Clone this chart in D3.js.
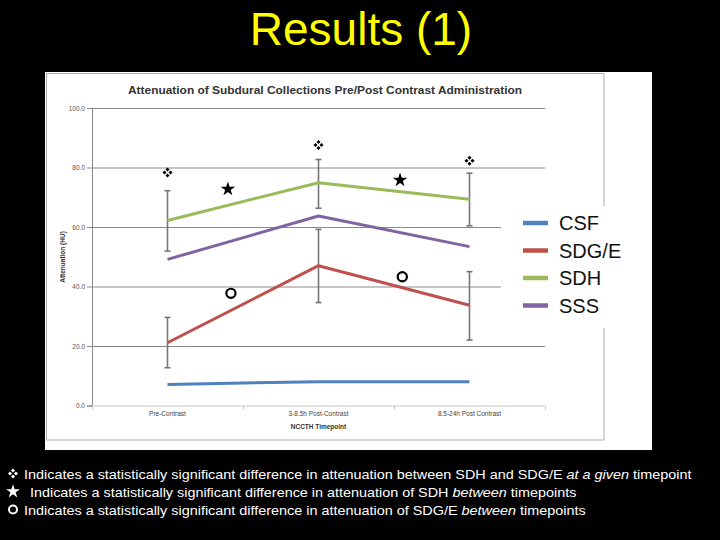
<!DOCTYPE html>
<html>
<head>
<meta charset="utf-8">
<script src="https://cdn.jsdelivr.net/npm/d3@7"></script>
<style>
  html, body { margin: 0; padding: 0; background: #000; }
  svg { display: block; }
  text { font-family: "Liberation Sans", Arial, sans-serif; }
</style>
</head>
<body>
<svg id="chart" width="720" height="540"></svg>
<script>
// ---------- data ----------
const categories = ["Pre-Contrast", "3-8.5h Post-Contrast", "8.5-24h Post Contrast"];
const seriesNames = ["CSF", "SDG/E", "SDH", "SSS"];
const seriesColors = ["#4f81bd", "#c0504d", "#9bbb59", "#8064a2"];
const csfValues  = [7.1, 8.0, 8.0];
const sdgeValues = [21.1, 47.0, 33.7];
const sdhValues  = [62.2, 74.9, 69.3];
const sssValues  = [49.1, 63.7, 53.4];
const sdhErrLow   = [51.9, 66.3, 60.4];
const sdhErrHigh  = [72.2, 82.7, 78.1];
const sdgeErrLow  = [12.7, 34.6, 22.0];
const sdgeErrHigh = [29.6, 59.2, 45.0];
const yTicks = [0, 20, 40, 60, 80, 100];
// significance markers (category position, value)
const diamondMarks = [{c: 0, v: 78.3}, {c: 1, v: 87.6}, {c: 2, v: 82.3}];
const starMarks    = [{c: 0.40, v: 72.7}, {c: 1.54, v: 75.8}];
const circleMarks  = [{c: 0.42, v: 37.7}, {c: 1.555, v: 43.3}];
const pageTitle = "Results (1)";
const chartTitle = "Attenuation of Subdural Collections Pre/Post Contrast Administration";
const yTitle = "Attenuation (HU)";
const xTitle = "NCCTH Timepoint";
const footnotes = [
  {sym: "diamond", parts: [["Indicates a statistically significant difference in attenuation between SDH and SDG/E ", false], ["at a given", true], [" timepoint", false]]},
  {sym: "star", parts: [["Indicates a statistically significant difference in attenuation of SDH ", false], ["between", true], [" timepoints", false]]},
  {sym: "circle", parts: [["Indicates a statistically significant difference in attenuation of SDG/E ", false], ["between", true], [" timepoints", false]]}
];

const seriesValues = [csfValues, sdgeValues, sdhValues, sssValues];

// ---------- layout ----------
const svg = d3.select("#chart");
svg.append("rect").attr("width", 720).attr("height", 540).attr("fill", "#000");

// page title
svg.append("text").attr("x", 361).attr("y", 45).attr("text-anchor", "middle")
  .attr("font-size", 46).attr("fill", "#ffff00").text(pageTitle);

// chart image background
svg.append("rect").attr("x", 45).attr("y", 72).attr("width", 607).attr("height", 378).attr("fill", "#fff");
svg.append("rect").attr("x", 46.5).attr("y", 73.5).attr("width", 557.5).attr("height", 366.5)
  .attr("fill", "none").attr("stroke", "#b0b0b0").attr("stroke-width", 1);

const x = d3.scaleLinear().domain([-0.5, 2.5]).range([92, 545]);
const y = d3.scaleLinear().domain([0, 100]).range([405.5, 108]);

// chart title
svg.append("text").attr("x", 325).attr("y", 94).attr("text-anchor", "middle")
  .attr("font-size", 11).attr("font-weight", "bold").attr("fill", "#333")
  .attr("textLength", 394).attr("lengthAdjust", "spacingAndGlyphs").text(chartTitle);

// gridlines + y axis
const yAxis = svg.append("g").attr("transform", "translate(92,0)")
  .call(d3.axisLeft(y).tickValues(yTicks).tickFormat(d3.format(".1f")).tickSize(5).tickPadding(2));
yAxis.select(".domain").attr("stroke", "#888");
yAxis.selectAll(".tick line").attr("stroke", "#888");
yAxis.selectAll(".tick text").attr("font-size", 6.5).attr("fill", "#555");

const grid = svg.append("g").attr("transform", "translate(92,0)")
  .call(d3.axisRight(y).tickValues(yTicks.filter(t => t > 0)).tickSize(545 - 92).tickFormat(""));
grid.select(".domain").remove();
grid.selectAll(".tick line").attr("stroke", "#8a8a8a").attr("stroke-width", 1);

// x axis
const xAxis = svg.append("g").attr("transform", `translate(0,${y(0)})`)
  .call(d3.axisBottom(x).tickValues([-0.5, 0.5, 1.5, 2.5]).tickSize(4).tickFormat(""));
xAxis.select(".domain").attr("stroke", "#c8c8c8");
xAxis.selectAll(".tick line").attr("stroke", "#c8c8c8");

svg.append("g").selectAll("text").data(categories).join("text")
  .attr("x", (d, i) => x(i)).attr("y", 416).attr("text-anchor", "middle")
  .attr("font-size", 6.5).attr("fill", "#444").text(d => d);

svg.append("text").attr("x", x(1)).attr("y", 429).attr("text-anchor", "middle")
  .attr("font-size", 6.5).attr("font-weight", "bold").attr("fill", "#333").text(xTitle);

svg.append("text").attr("transform", `translate(65,257) rotate(-90)`).attr("text-anchor", "middle")
  .attr("font-size", 6.5).attr("font-weight", "bold").attr("fill", "#333").text(yTitle);

// error bars
function errorBars(lows, highs) {
  const g = svg.append("g").attr("stroke", "#777").attr("stroke-width", 1.6);
  lows.forEach((lo, i) => {
    const cx = x(i);
    g.append("line").attr("x1", cx).attr("x2", cx).attr("y1", y(lo)).attr("y2", y(highs[i]));
    g.append("line").attr("x1", cx - 3).attr("x2", cx + 3).attr("y1", y(lo)).attr("y2", y(lo));
    g.append("line").attr("x1", cx - 3).attr("x2", cx + 3).attr("y1", y(highs[i])).attr("y2", y(highs[i]));
  });
}
errorBars(sdhErrLow, sdhErrHigh);
errorBars(sdgeErrLow, sdgeErrHigh);

// lines
const line = d3.line().x((d, i) => x(i)).y(d => y(d));
seriesValues.forEach((vals, k) => {
  svg.append("path").datum(vals).attr("d", line).attr("fill", "none")
    .attr("stroke", seriesColors[k]).attr("stroke-width", 3).attr("stroke-linejoin", "round");
});

// markers
function drawDiamond(g, cx, cy, s, color) {
  const d = s * 0.2;
  [[0, -1], [-1, 0], [1, 0], [0, 1]].forEach(([dx, dy]) => {
    const px = cx + dx * s * 0.3, py = cy + dy * s * 0.3;
    g.append("path").attr("d", `M${px},${py - d}L${px + d},${py}L${px},${py + d}L${px - d},${py}Z`).attr("fill", color);
  });
}
function drawStar(g, cx, cy, size, color) {
  g.append("path").attr("transform", `translate(${cx},${cy})`)
    .attr("d", d3.symbol(d3.symbolStar, size)()).attr("fill", color);
}
function drawCircle(g, cx, cy, r, color, sw) {
  g.append("circle").attr("cx", cx).attr("cy", cy).attr("r", r)
    .attr("fill", "none").attr("stroke", color).attr("stroke-width", sw);
}
const marks = svg.append("g");
diamondMarks.forEach(m => drawDiamond(marks, x(m.c), y(m.v), 10, "#000"));
starMarks.forEach(m => drawStar(marks, x(m.c), y(m.v), 65, "#000"));
circleMarks.forEach(m => drawCircle(marks, x(m.c), y(m.v), 4.6, "#000", 2.2));

// legend (overlaid, white background)
svg.append("rect").attr("x", 501).attr("y", 206).attr("width", 140).attr("height", 122).attr("fill", "#fff");
const leg = svg.append("g");
seriesNames.forEach((name, i) => {
  const ly = 223 + i * 27.5;
  leg.append("line").attr("x1", 523).attr("x2", 548).attr("y1", ly).attr("y2", ly)
    .attr("stroke", seriesColors[i]).attr("stroke-width", 4.5);
  leg.append("text").attr("x", 559).attr("y", ly + 7).attr("font-size", 20).attr("fill", "#111").text(name);
});

// footnotes
const foot = svg.append("g");
const footTargets = [{y: 474, start: 24, end: 692}, {y: 492, start: 30, end: 577}, {y: 510, start: 24, end: 586}];
footnotes.forEach((f, i) => {
  const t = footTargets[i];
  const cy = t.y - 0.5;
  if (f.sym === "diamond") drawDiamond(foot, 13, cy, 10, "#fff");
  if (f.sym === "star") drawStar(foot, 13, cy, 60, "#fff");
  if (f.sym === "circle") drawCircle(foot, 13, cy, 4, "#fff", 2);
  const txt = foot.append("text").attr("x", 0).attr("y", 0).attr("font-size", 13.5).attr("fill", "#fff");
  f.parts.forEach(([s, it]) => {
    txt.append("tspan").attr("font-style", it ? "italic" : "normal").text(s);
  });
  const w = txt.node().getComputedTextLength();
  const sx = (t.end - t.start) / w;
  txt.attr("transform", `translate(${t.start},${t.y + 5}) scale(${sx},1)`);
});
</script>
</body>
</html>
